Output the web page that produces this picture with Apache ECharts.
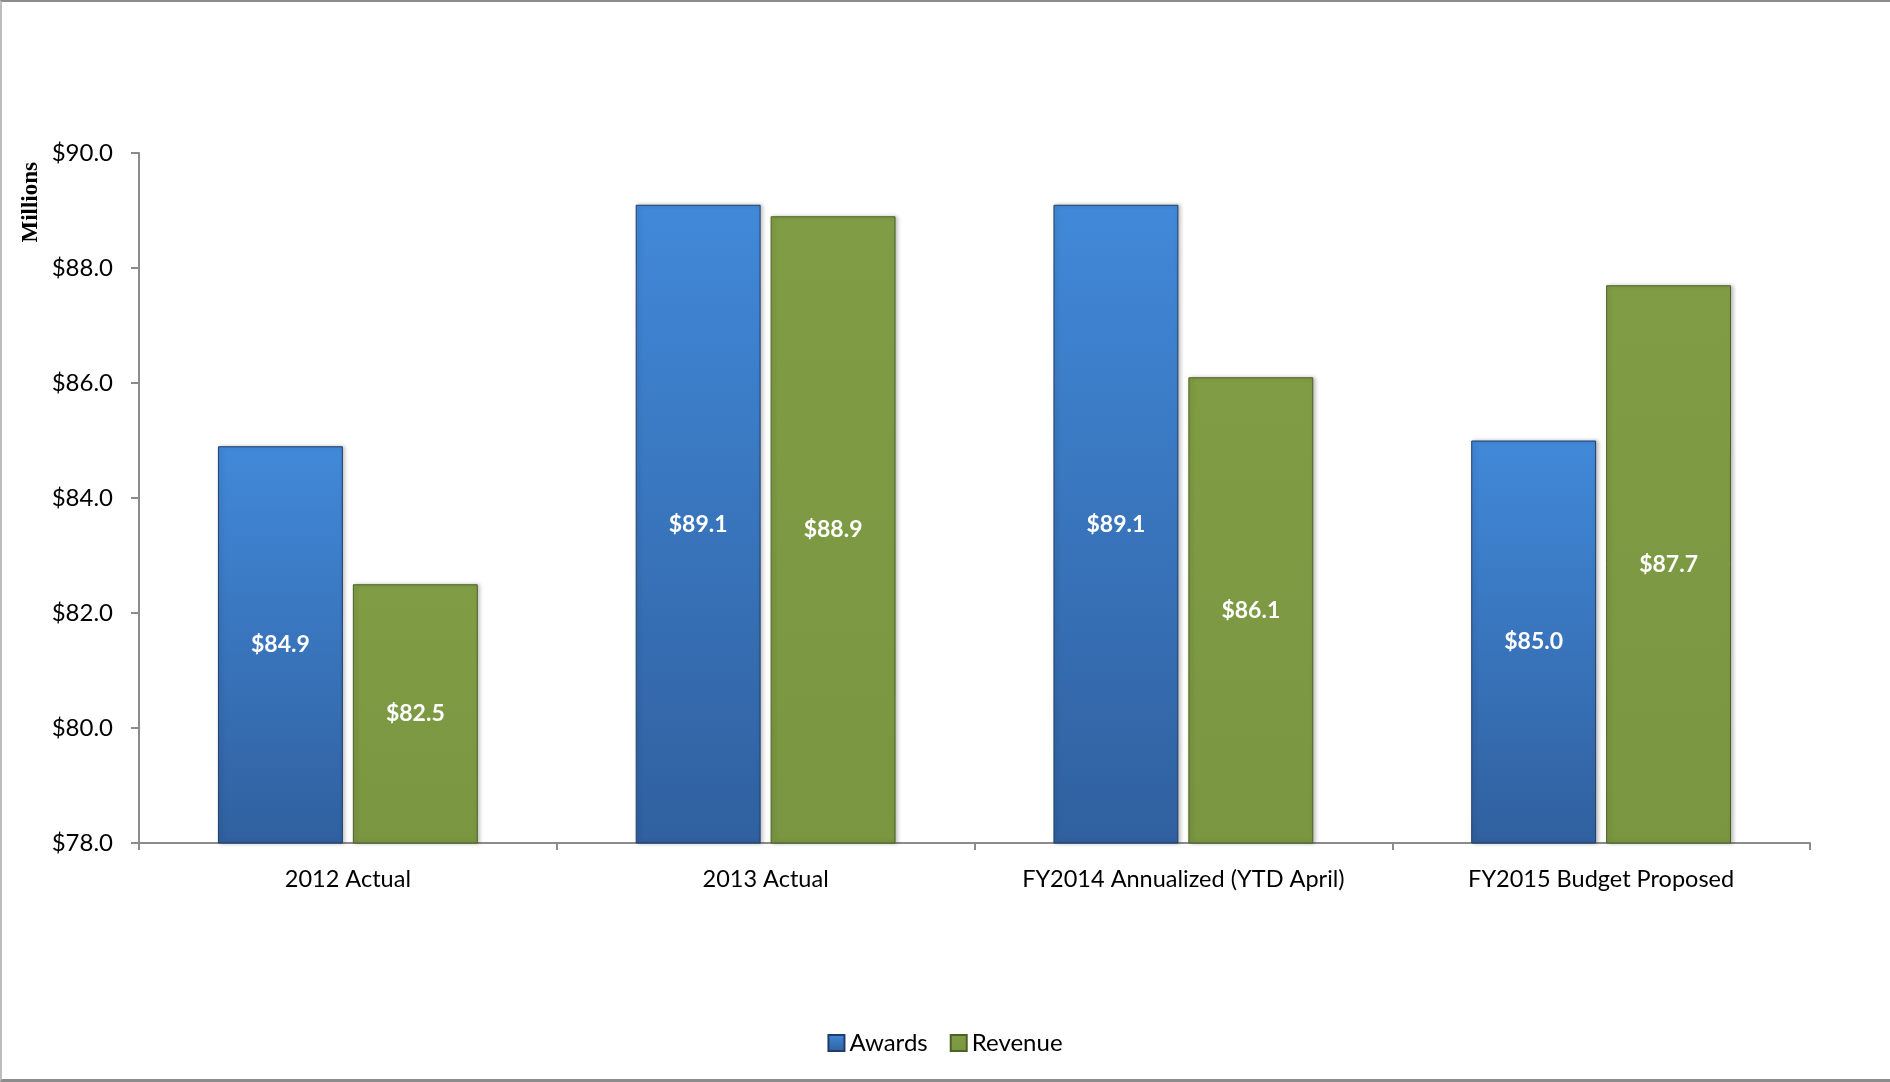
<!DOCTYPE html>
<html>
<head>
<meta charset="utf-8">
<script src="https://cdn.jsdelivr.net/npm/echarts@6/dist/echarts.min.js"></script>
<style>
html,body{margin:0;padding:0;background:#fff;}
#frame{position:absolute;left:0;top:0;width:1890px;height:1082px;box-sizing:border-box;border-top:2px solid #8c8c8c;border-left:2px solid #bdbdbd;border-bottom:3px solid #8c8c8c;}
#chart{position:absolute;left:0;top:0;width:1890px;height:1082px;}
</style>
</head>
<body>
<div id="frame"></div>
<div id="chart"></div>
<script>
const categories = ['2012 Actual', '2013 Actual', 'FY2014 Annualized (YTD April)', 'FY2015 Budget Proposed'];
const awards = [84.9, 89.1, 89.1, 85.0];
const revenue = [82.5, 88.9, 86.1, 87.7];
const yTicks = { min: 78, max: 90, interval: 2 };

const FONT = 'Lato, "Open Sans", sans-serif';
const chart = echarts.init(document.getElementById('chart'));

const blueGrad = new echarts.graphic.LinearGradient(0, 0, 0, 1, [
  { offset: 0, color: '#4189d9' },
  { offset: 1, color: '#30609f' }
]);
const greenGrad = new echarts.graphic.LinearGradient(0, 0, 0, 1, [
  { offset: 0, color: '#809d45' },
  { offset: 1, color: '#7a9641' }
]);

const labelCfg = {
  show: true,
  position: 'inside',
  color: '#ffffff',
  fontFamily: FONT,
  fontWeight: 'bold',
  fontSize: 23,
  formatter: p => '$' + p.value.toFixed(1)
};

chart.setOption({
  animation: false,
  grid: { left: 139, right: 80, top: 153, bottom: 239, containLabel: false },
  legend: {
    bottom: 22,
    left: 'center',
    itemWidth: 16,
    itemHeight: 16,
    itemGap: 22,
    itemTextGap: 4,
    textStyle: { fontFamily: FONT, fontSize: 24, color: '#000' },
    data: [
      { name: 'Awards', icon: 'rect' },
      { name: 'Revenue', icon: 'rect' }
    ]
  },
  graphic: [{
    type: 'text',
    left: 20,
    top: 162,
    rotation: Math.PI / 2,
    style: {
      text: 'Millions',
      fontFamily: '"Liberation Serif", "Times New Roman", serif',
      fontWeight: 'bold',
      fontSize: 23,
      fill: '#000'
    }
  }],
  xAxis: {
    type: 'category',
    data: categories,
    axisLine: { lineStyle: { color: '#8c8c8c', width: 2 } },
    axisTick: { show: true, interval: 0, length: 7, lineStyle: { color: '#8c8c8c', width: 2 } },
    axisLabel: { interval: 0, hideOverlap: false, fontFamily: FONT, fontSize: 23.5, color: '#000', margin: 24 }
  },
  yAxis: {
    type: 'value',
    min: yTicks.min,
    max: yTicks.max,
    interval: yTicks.interval,
    axisLine: { show: true, lineStyle: { color: '#8c8c8c', width: 2 } },
    axisTick: { show: true, length: 8, lineStyle: { color: '#8c8c8c', width: 2 } },
    splitLine: { show: false },
    axisLabel: {
      fontFamily: FONT, fontSize: 24, color: '#000', margin: 26,
      formatter: v => '$' + v.toFixed(1)
    }
  },
  series: [
    {
      name: 'Awards',
      type: 'bar',
      data: awards,
      barGap: '8%',
      barCategoryGap: '37.8%',
      itemStyle: { color: blueGrad, borderColor: '#1f3d68', borderWidth: 1, shadowColor: 'rgba(0,0,0,0.25)', shadowBlur: 4, shadowOffsetX: 2 },
      label: labelCfg
    },
    {
      name: 'Revenue',
      type: 'bar',
      data: revenue,
      itemStyle: { color: greenGrad, borderColor: '#4c6126', borderWidth: 1, shadowColor: 'rgba(0,0,0,0.25)', shadowBlur: 4, shadowOffsetX: 2 },
      label: labelCfg
    }
  ]
});
</script>
</body>
</html>
